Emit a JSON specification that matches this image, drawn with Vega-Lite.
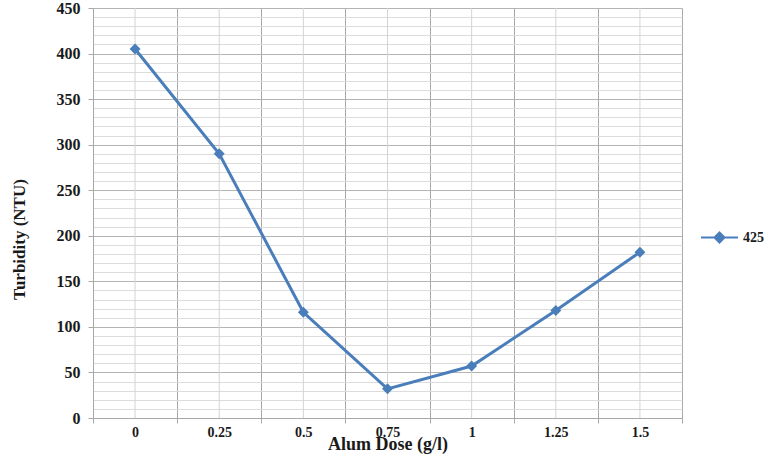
{
  "$schema": "https://vega.github.io/schema/vega-lite/v6.json",
  "autosize": "none",
  "width": 589,
  "height": 410,
  "padding": {"left": 93, "top": 8, "right": 87, "bottom": 41},
  "background": "white",
  "data": {"values": [
    {"dose": "0", "turbidity": 405, "series": "425"},
    {"dose": "0.25", "turbidity": 290, "series": "425"},
    {"dose": "0.5", "turbidity": 116, "series": "425"},
    {"dose": "0.75", "turbidity": 32, "series": "425"},
    {"dose": "1", "turbidity": 57, "series": "425"},
    {"dose": "1.25", "turbidity": 118, "series": "425"},
    {"dose": "1.5", "turbidity": 182, "series": "425"}
  ]},
  "config": {
    "font": "Liberation Serif",
    "view": {"stroke": null}
  },
  "layer": [
    {
      "mark": {"type": "rule", "color": "#d4d4d4", "strokeWidth": 1},
      "encoding": {
        "x": {"field": "dose", "type": "ordinal", "sort": null}
      }
    },
    {
      "mark": {"type": "line", "strokeWidth": 3, "point": {"shape": "diamond", "size": 120, "filled": true}},
      "encoding": {
        "x": {
          "field": "dose", "type": "ordinal", "sort": null,
          "scale": {"type": "band", "paddingInner": 0, "paddingOuter": 0},
          "axis": {
            "title": "Alum Dose (g/l)",
            "labelAngle": 0,
            "labelAlign": "center",
            "tickBand": "extent",
            "grid": true,
            "gridColor": "#a8a8a8",
            "gridWidth": 1,
            "domainColor": "#a8a8a8",
            "tickColor": "#a8a8a8",
            "tickSize": 5,
            "labelFont": "Liberation Serif",
            "labelFontWeight": "bold",
            "labelFontSize": 14,
            "labelColor": "#1a1a1a",
            "labelPadding": 9,
            "titleFont": "Liberation Serif",
            "titleFontWeight": "bold",
            "titleFontSize": 18,
            "titleColor": "#1a1a1a",
            "titlePadding": -4
          }
        },
        "y": {
          "field": "turbidity", "type": "quantitative",
          "scale": {"domain": [0, 450], "nice": false},
          "axis": {
            "title": "Turbidity (NTU)",
            "values": [0,10,20,30,40,50,60,70,80,90,100,110,120,130,140,150,160,170,180,190,200,210,220,230,240,250,260,270,280,290,300,310,320,330,340,350,360,370,380,390,400,410,420,430,440,450],
            "labelExpr": "datum.value % 50 === 0 ? datum.label : ''",
            "grid": true,
            "gridColor": {"condition": {"test": "datum.value % 50 === 0", "value": "#b4b4b4"}, "value": "#dcdcdc"},
            "gridWidth": 1,
            "domain": true,
            "domainColor": "#a8a8a8",
            "tickColor": "#a8a8a8",
            "tickOpacity": {"condition": {"test": "datum.value % 50 === 0", "value": 1}, "value": 0},
            "tickSize": 5,
            "labelFont": "Liberation Serif",
            "labelFontWeight": "bold",
            "labelFontSize": 16,
            "labelColor": "#1a1a1a",
            "labelPadding": 8,
            "titleFont": "Liberation Serif",
            "titleFontWeight": "bold",
            "titleFontSize": 17,
            "titleColor": "#1a1a1a",
            "titlePadding": 28,
            "titleY": 231
          }
        },
        "color": {
          "field": "series", "type": "nominal",
          "scale": {"range": ["#4a7ebb"]},
          "legend": {
            "title": null,
            "orient": "none",
            "legendX": 607,
            "legendY": 210,
            "padding": 0,
            "symbolType": "M-1,0H1M0,-0.27L0.27,0L0,0.27L-0.27,0Z",
            "symbolSize": 1369,
            "symbolStrokeWidth": 2,
            "symbolFillColor": "#4a7ebb",
            "symbolStrokeColor": "#4a7ebb",
            "labelFont": "Liberation Serif",
            "labelFontWeight": "bold",
            "labelFontSize": 14,
            "labelColor": "#1a1a1a",
            "labelOffset": 4
          }
        }
      }
    }
  ]
}
